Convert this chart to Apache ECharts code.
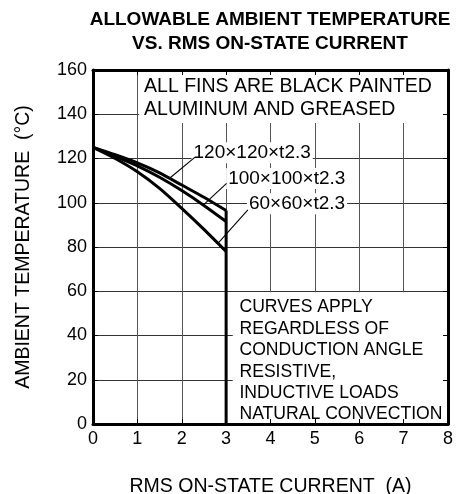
<!DOCTYPE html>
<html><head><meta charset="utf-8">
<script src="https://cdn.jsdelivr.net/npm/echarts@6/dist/echarts.min.js"></script>
<style>html,body{margin:0;padding:0;background:#fff}#c{width:460px;height:494px}</style>
</head><body><div id="c"></div>
<script>
// ---- data ----
const titleLines = ['ALLOWABLE AMBIENT TEMPERATURE', 'VS. RMS ON-STATE CURRENT'];
const xName = 'RMS ON-STATE CURRENT  (A)';
const yName = 'AMBIENT TEMPERATURE  (°C)';
const xTicks = [0, 1, 2, 3, 4, 5, 6, 7, 8];
const yTicks = [0, 20, 40, 60, 80, 100, 120, 140, 160];
const current = [0, 0.5, 1, 1.5, 2, 2.5, 3];
const temp120 = [125, 121.7, 118, 113.5, 108, 102.5, 96.5];
const temp100 = [125, 121, 116.7, 111.5, 105.5, 98.8, 91.5];
const temp60  = [125, 120, 114, 106.5, 97.5, 88, 78];
const limitCurrent = [3, 3];
const limitTemp = [0, 96.5];
const finLabels = ['120×120×t2.3', '100×100×t2.3', '60×60×t2.3'];
const noteTop = ['ALL FINS ARE BLACK PAINTED', 'ALUMINUM AND GREASED'];
const noteBottom = ['CURVES APPLY', 'REGARDLESS OF', 'CONDUCTION ANGLE', 'RESISTIVE,', 'INDUCTIVE LOADS', 'NATURAL CONVECTION'];

// ---- layout / annotation placement (data coordinates) ----
const FONT = '"Liberation Sans", Arial, Helvetica, sans-serif';
const finLabelAt = [[2.22, 122.6], [3.0, 111.0], [3.47, 99.6]];
const leaders = [
  [[2.3, 120.6], [1.74, 111.3]],
  [[3.01, 108.8], [2.49, 99.0]],
  [[3.49, 96.8], [2.82, 81.8]]
];

const zip = (xs, ys) => xs.map((x, i) => [x, ys[i]]);
const chart = echarts.init(document.getElementById('c'), null, {renderer: 'canvas'});

const axisBase = {
  type: 'value', min: 0,
  axisLine: {show: true, onZero: false, lineStyle: {color: '#000', width: 3}},
  axisTick: {show: true, inside: true, length: 5, lineStyle: {color: '#000', width: 1}},
  splitLine: {show: false}, z: 5
};
const xInt = xTicks[1] - xTicks[0], yInt = yTicks[1] - yTicks[0];
const xMax = xTicks[xTicks.length - 1], yMax = yTicks[yTicks.length - 1];

const lineSeries = (d, w) => ({
  type: 'line', data: d, symbol: 'none', smooth: 0.25, z: 3,
  lineStyle: {color: '#000', width: w}, silent: true
});

const option = {
  animation: false,
  backgroundColor: '#fff',
  grid: {left: 93, right: 12, top: 70, bottom: 70, containLabel: false, outerBoundsMode: 'none'},
  xAxis: [
    Object.assign({}, axisBase, {position: 'bottom', max: xMax, interval: xInt,
      axisLabel: {show: true, margin: 6, color: '#000', fontSize: 18, fontFamily: FONT},
      name: xName, nameLocation: 'middle', nameGap: 53,
      nameTextStyle: {color: '#000', fontSize: 19.5, fontFamily: FONT}}),
    Object.assign({}, axisBase, {position: 'top', max: xMax, interval: xInt, axisLabel: {show: false}}),
    {type: 'value', min: 0, max: xMax, interval: xInt, position: 'bottom', z: 0,
      axisLine: {show: false}, axisTick: {show: false}, axisLabel: {show: false},
      splitLine: {show: true, lineStyle: {color: '#555', width: 1}}}
  ],
  yAxis: [
    Object.assign({}, axisBase, {position: 'left', max: yMax, interval: yInt,
      axisLabel: {show: true, margin: 6, color: '#000', fontSize: 18, fontFamily: FONT},
      name: yName, nameLocation: 'middle', nameGap: 59, nameRotate: 90,
      nameTextStyle: {color: '#000', fontSize: 19.5, fontFamily: FONT}}),
    Object.assign({}, axisBase, {position: 'right', max: yMax, interval: yInt, axisLabel: {show: false}}),
    {type: 'value', min: 0, max: yMax, interval: yInt, position: 'left', z: 0,
      axisLine: {show: false}, axisTick: {show: false}, axisLabel: {show: false},
      splitLine: {show: true, lineStyle: {color: '#333', width: 1}}}
  ],
  series: [
    lineSeries(zip(current, temp120), 3),
    lineSeries(zip(current, temp100), 3),
    lineSeries(zip(current, temp60), 3),
    Object.assign(lineSeries(zip(limitCurrent, limitTemp), 3), {smooth: false})
  ].concat(leaders.map(l => Object.assign(lineSeries(l, 1.1), {smooth: false})))
};
chart.setOption(option);

// ---- annotations positioned through the axes ----
const px = p => chart.convertToPixel({xAxisIndex: 0, yAxisIndex: 0}, p);
const els = [];
// title
titleLines.forEach((t, i) => {
  els.push({type: 'text', z: 10, style: {text: t, x: 270, y: 20 + i * 24,
    textAlign: 'center', textVerticalAlign: 'middle',
    font: 'bold 19px ' + FONT, fill: '#000'}});
});
// white boxes over grid
function box(x0, y0, x1, y1) {
  const a = px([x0, y1]), b = px([x1, y0]);
  els.push({type: 'rect', z: 1, silent: true,
    shape: {x: a[0], y: a[1], width: b[0] - a[0], height: b[1] - a[1]},
    style: {fill: '#fff'}});
}
box(1.04, 136, xMax, yMax);
box(3.15, 0, xMax, 59.5);
// note texts
noteTop.forEach((t, i) => {
  const p = px([1.15, 152.6]);
  els.push({type: 'text', z: 2, style: {text: t, x: p[0], y: p[1] + i * 23,
    textAlign: 'left', textVerticalAlign: 'middle', font: '19.5px ' + FONT, fill: '#000'}});
});
noteBottom.forEach((t, i) => {
  const p = px([3.3, 52.6]);
  els.push({type: 'text', z: 2, style: {text: t, x: p[0], y: p[1] + i * 21.4,
    textAlign: 'left', textVerticalAlign: 'middle', font: '17.6px ' + FONT, fill: '#000'}});
});
// fin labels
finLabels.forEach((t, i) => {
  const p = px(finLabelAt[i]);
  els.push({type: 'text', z: 2, style: {text: t, x: p[0], y: p[1],
    textAlign: 'left', textVerticalAlign: 'middle', font: '19px ' + FONT, fill: '#000',
    backgroundColor: '#fff', padding: [1, 2, 1, 2]}});
});
chart.setOption({graphic: {elements: els}});
</script>
</body></html>
